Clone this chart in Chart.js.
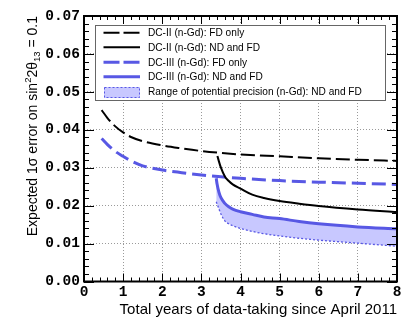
<!DOCTYPE html>
<html><head><meta charset="utf-8">
<script src="https://cdn.jsdelivr.net/npm/chart.js@4"></script>
<style>html,body{margin:0;padding:0;background:#fff}</style>
</head><body>
<canvas id="c" width="415" height="329" style="width:415px;height:329px;display:block"></canvas>
<script>
// ---- data ----
const xTickLabels = ['0','1','2','3','4','5','6','7','8'];
const yTickLabels = ['0.00','0.01','0.02','0.03','0.04','0.05','0.06','0.07'];

const seriesNames = [
  'DC-II (n-Gd): FD only',
  'DC-II (n-Gd): ND and FD',
  'DC-III (n-Gd): FD only',
  'DC-III (n-Gd): ND and FD',
  'Range of potential precision (n-Gd): ND and FD'
];

const dc2FdX = [0.45, 0.6, 0.8, 1.0, 1.2, 1.5, 2.0, 2.5, 3.0, 3.5, 4.0, 5.0, 6.0, 7.0, 8.0];
const dc2FdY = [0.0452, 0.0431, 0.0409, 0.0393, 0.0381, 0.0370, 0.0359, 0.0351, 0.0344, 0.0339, 0.0335, 0.0330, 0.0325, 0.0321, 0.0318];

const dc3FdX = [0.45, 0.6, 0.8, 1.0, 1.2, 1.5, 2.0, 2.5, 3.0, 3.5, 4.0, 5.0, 6.0, 7.0, 8.0];
const dc3FdY = [0.0377, 0.0361, 0.0343, 0.0330, 0.0318, 0.0305, 0.0294, 0.0287, 0.0281, 0.0276, 0.0272, 0.0266, 0.0262, 0.0259, 0.0256];

const dc2NdFdX = [3.41, 3.45, 3.5, 3.6, 3.7, 3.8, 4.0, 4.3, 4.6, 5.0, 5.5, 6.0, 7.0, 8.0];
const dc2NdFdY = [0.0331, 0.0316, 0.0300, 0.0277, 0.0265, 0.0256, 0.0245, 0.0229, 0.0220, 0.0212, 0.0205, 0.0199, 0.0190, 0.0183];

const dc3NdFdX = [3.38, 3.40, 3.45, 3.5, 3.6, 3.7, 3.8, 4.0, 4.3, 4.6, 5.0, 5.5, 6.0, 7.0, 8.0];
const dc3NdFdY = [0.0272, 0.0258, 0.0235, 0.0221, 0.0206, 0.0197, 0.0191, 0.0184, 0.0177, 0.0170, 0.0166, 0.0158, 0.0152, 0.0144, 0.0139];

const rangeLowX = [3.38, 3.40, 3.45, 3.5, 3.6, 3.7, 3.8, 4.0, 4.3, 4.6, 5.0, 5.5, 6.0, 7.0, 8.0];
const rangeLowY = [0.0210, 0.0205, 0.0191, 0.0178, 0.0160, 0.0152, 0.0147, 0.0140, 0.0132, 0.0126, 0.0120, 0.0114, 0.0109, 0.0101, 0.0093];

const xTitle = 'Total years of data-taking since April 2011';

// ---- styles ----
const BLUE = 'rgb(88,88,228)';
const BAND = 'rgb(200,200,255)';
const pts = (xs, ys) => xs.map((x, i) => ({x: x, y: ys[i]}));

const styles = [
  {color: '#000', width: 2, dash: [14, 5]},
  {color: '#000', width: 2, dash: []},
  {color: BLUE, width: 3, dash: [14, 6]},
  {color: BLUE, width: 3, dash: []},
  {color: BLUE, width: 1.3, dash: [2, 2]}
];

const framePlugin = {
  id: 'frame',
  afterDatasetsDraw(chart) {
    const ctx = chart.ctx, a = chart.chartArea;
    const xs = chart.scales.x, ys = chart.scales.y;
    ctx.save();
    ctx.strokeStyle = '#000';
    ctx.lineWidth = 1;
    for (let i = 0; i <= 40; i++) {
      const v = i * 0.2;
      const px = Math.round(xs.getPixelForValue(v)) + 0.5;
      const len = (i % 5 === 0) ? 8 : 4;
      ctx.beginPath();
      ctx.moveTo(px, a.bottom); ctx.lineTo(px, a.bottom - len);
      ctx.moveTo(px, a.top); ctx.lineTo(px, a.top + len);
      ctx.stroke();
    }
    for (let i = 0; i <= 35; i++) {
      const v = i * 0.002;
      const py = Math.round(ys.getPixelForValue(v)) + 0.5;
      const len = (i % 5 === 0) ? 10 : 5;
      ctx.beginPath();
      ctx.moveTo(a.left, py); ctx.lineTo(a.left + len, py);
      ctx.moveTo(a.right, py); ctx.lineTo(a.right - len, py);
      ctx.stroke();
    }
    ctx.lineWidth = 2;
    ctx.strokeRect(a.left, a.top, a.right - a.left, a.bottom - a.top);
    ctx.restore();
  },
  afterDraw(chart) {
    const ctx = chart.ctx, a = chart.chartArea;
    ctx.save();
    // ---- legend ----
    const bx = 95, by = 25, bw = 290, bh = 75;
    ctx.fillStyle = '#fff';
    ctx.fillRect(bx, by, bw, bh);
    ctx.strokeStyle = '#666';
    ctx.lineWidth = 1;
    ctx.strokeRect(bx + 0.5, by + 0.5, bw, bh);
    ctx.font = '10px "Liberation Sans", Arial, sans-serif';
    const target = 214;
    const w = ctx.measureText(seriesNames[4]).width;
    const fs = 10 * target / w;
    ctx.font = fs.toFixed(2) + 'px "Liberation Sans", Arial, sans-serif';
    const rows = [32.7, 47.3, 62.3, 76.7, 92];
    for (let i = 0; i < 5; i++) {
      const yy = rows[i];
      const st = styles[i];
      if (i < 4) {
        ctx.strokeStyle = st.color;
        ctx.lineWidth = st.width;
        ctx.setLineDash(i === 0 || i === 2 ? [16, 4] : []);
        ctx.beginPath();
        ctx.moveTo(103.5, yy); ctx.lineTo(140, yy);
        ctx.stroke();
        ctx.setLineDash([]);
      } else {
        ctx.fillStyle = BAND;
        ctx.fillRect(104, yy - 5, 36, 11);
        ctx.strokeStyle = BLUE;
        ctx.lineWidth = 1;
        ctx.setLineDash([2, 2]);
        ctx.strokeRect(104.5, yy - 4.5, 35, 10);
        ctx.setLineDash([]);
      }
      ctx.fillStyle = '#000';
      ctx.textBaseline = 'middle';
      ctx.textAlign = 'left';
      ctx.fillText(seriesNames[i], 148, yy + 0.5);
    }
    // ---- x title ----
    ctx.font = '15px "Liberation Sans", Arial, sans-serif';
    ctx.textAlign = 'right';
    ctx.textBaseline = 'alphabetic';
    ctx.fillStyle = '#000';
    ctx.fillText(xTitle, 397, 314);
    // ---- y title (rotated, with super/subscripts) ----
    const big = '14px "Liberation Sans", Arial, sans-serif';
    const small = '9.5px "Liberation Sans", Arial, sans-serif';
    const pieces = [
      {t: 'Expected 1\u03C3 error on sin', f: big, dy: 0},
      {t: '2', f: small, dy: -6},
      {t: '2\u03B8', f: big, dy: 0},
      {t: '13', f: small, dy: 3},
      {t: ' = 0.1', f: big, dy: 0}
    ];
    let total = 0;
    pieces.forEach(p => { ctx.font = p.f; p.w = ctx.measureText(p.t).width; total += p.w; });
    ctx.translate(37, a.top + total);
    ctx.rotate(-Math.PI / 2);
    ctx.textAlign = 'left';
    let cx = 0;
    pieces.forEach(p => { ctx.font = p.f; ctx.fillText(p.t, cx, p.dy); cx += p.w; });
    ctx.restore();
  }
};

const tickFont = {family: '"Liberation Mono", "Courier New", monospace', size: 14.5, weight: 'bold'};

new Chart(document.getElementById('c'), {
  type: 'line',
  data: {
    datasets: [
      {label: seriesNames[0], data: pts(dc2FdX, dc2FdY)},
      {label: seriesNames[1], data: pts(dc2NdFdX, dc2NdFdY)},
      {label: seriesNames[2], data: pts(dc3FdX, dc3FdY)},
      {label: seriesNames[3], data: pts(dc3NdFdX, dc3NdFdY)},
      {label: seriesNames[4], data: pts(rangeLowX, rangeLowY), fill: {target: 3}, backgroundColor: BAND}
    ].map((d, i) => Object.assign({
      borderColor: styles[i].color,
      borderWidth: styles[i].width,
      borderDash: styles[i].dash,
      pointRadius: 0,
      cubicInterpolationMode: 'monotone',
      fill: false
    }, d))
  },
  options: {
    responsive: false,
    animation: false,
    devicePixelRatio: 1,
    layout: {padding: {left: 0, right: 18, top: 16, bottom: 0}},
    plugins: {legend: {display: false}, tooltip: {enabled: false}, filler: {propagate: false}},
    scales: {
      x: {
        type: 'linear', min: 0, max: 8,
        afterFit: s => { s.height = 47.5; },
        ticks: {stepSize: 1, color: '#000', font: tickFont, padding: 2, maxRotation: 0,
          callback: v => xTickLabels[Math.round(v)]},
        grid: {color: '#9a9a9a', lineWidth: 1, drawTicks: false},
        border: {display: false, dash: [1, 2]}
      },
      y: {
        type: 'linear', min: 0, max: 0.07,
        afterFit: s => { s.width = 84; },
        ticks: {stepSize: 0.01, color: '#000', font: tickFont, padding: 4,
          callback: v => yTickLabels[Math.round(v * 100)]},
        grid: {color: '#9a9a9a', lineWidth: 1, drawTicks: false},
        border: {display: false, dash: [1, 2]}
      }
    }
  },
  plugins: [framePlugin]
});
</script>
</body></html>
